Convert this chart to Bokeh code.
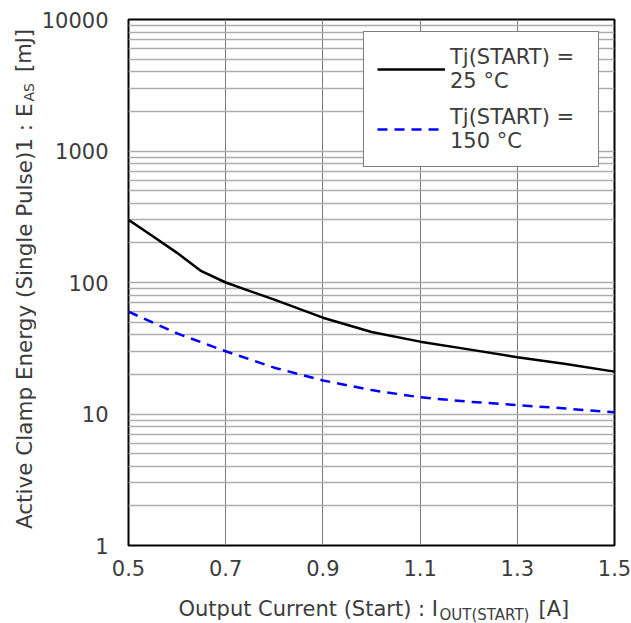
import math
from bokeh.plotting import figure
from bokeh.layouts import row, column
from bokeh.models import FixedTicker, PrintfTickFormatter, Label, Legend, LegendItem, Range1d
from bokeh.embed import file_html
from bokeh.resources import INLINE

# ---- data ----
current_25 = [0.5, 0.55, 0.6, 0.65, 0.7, 0.8, 0.9, 1.0, 1.1, 1.2, 1.3, 1.4, 1.5]
energy_25 = [300, 225, 168, 122, 100, 74, 54, 42, 35.5, 31, 27, 24, 21]
current_150 = [0.5, 0.6, 0.7, 0.8, 0.9, 1.0, 1.1, 1.2, 1.3, 1.4, 1.5]
energy_150 = [60, 41, 30, 22.5, 18, 15.2, 13.4, 12.4, 11.7, 11.0, 10.3]
x_ticks = [0.5, 0.7, 0.9, 1.1, 1.3, 1.5]
y_ticks = [1, 10, 100, 1000, 10000]
y_minor = [m * 10 ** d for d in range(4) for m in range(2, 10)]
legend_labels = ["Tj(START) =\n25 °C", "Tj(START) =\n150 °C"]
y_title = ["Active Clamp Energy (Single Pulse)1 : E", "AS", "[mJ]"]
x_title = ["Output Current (Start) : I", "OUT(START)", "[A]"]

FONT = "DejaVu Sans"
TXT = "#3c3c3c"

# ---- geometry (page pixels) ----
TOTAL_W, TOTAL_H = 631, 623
YLAB_W = 36
XLAB_H = 28
FRAME_L, FRAME_T = 128, 19
FW, FH = 486, 526
BL = FRAME_L - YLAB_W
BR = TOTAL_W - FRAME_L - FW
BT = FRAME_T
BB = TOTAL_H - XLAB_H - FRAME_T - FH

p = figure(frame_width=FW, frame_height=FH,
           min_border_left=BL, min_border_right=BR, min_border_top=BT, min_border_bottom=BB,
           x_range=(0.5, 1.5), y_range=(1, 10000), y_axis_type="log",
           output_backend="svg", toolbar_location=None)

p.outline_line_color = "black"
p.outline_line_width = 2
p.background_fill_color = "white"
p.border_fill_color = "white"

xt = FixedTicker(ticks=x_ticks)
yt = FixedTicker(ticks=y_ticks, minor_ticks=y_minor)
p.xaxis.ticker = xt
p.yaxis.ticker = yt
p.xgrid.ticker = xt
p.ygrid.ticker = yt
p.xaxis.formatter = PrintfTickFormatter(format="%.1f")
p.yaxis.formatter = PrintfTickFormatter(format="%d")

for ax in (p.xaxis[0], p.yaxis[0]):
    ax.axis_label = None
    ax.axis_line_color = None
    ax.major_tick_line_color = None
    ax.minor_tick_line_color = None
    ax.major_tick_in = 0
    ax.major_tick_out = 0
    ax.minor_tick_in = 0
    ax.minor_tick_out = 0
    ax.axis_label_standoff = 0
    ax.major_label_text_font = FONT
    ax.major_label_text_font_size = "21px"
    ax.major_label_text_color = TXT
p.yaxis.major_label_standoff = 20
p.xaxis.major_label_standoff = 14

p.xgrid.grid_line_color = "#7a7a7a"
p.xgrid.grid_line_width = 1
p.ygrid.grid_line_color = "#adadad"
p.ygrid.grid_line_width = 1.3
p.ygrid.minor_grid_line_color = "#adadad"
p.ygrid.minor_grid_line_width = 1.3

r25 = p.line(current_25, energy_25, line_color="black", line_width=2.5)
r150 = p.line(current_150, energy_150, line_color="#0000ff", line_width=2.5, line_dash="10 7")

legend = Legend(items=[LegendItem(label=legend_labels[0], renderers=[r25]),
                       LegendItem(label=legend_labels[1], renderers=[r150])],
                location=(235, 378))
legend.label_text_font = FONT
legend.label_text_font_size = "21px"
legend.label_text_color = TXT
legend.label_text_line_height = 1.25
legend.glyph_width = 68
legend.label_standoff = 5
legend.label_width = 135
legend.padding = 13
legend.spacing = 12
legend.margin = 0
legend.border_line_color = "black"
legend.border_line_width = 1
legend.background_fill_alpha = 1.0
p.add_layout(legend)


def strip(w, h, xr, yr):
    f = figure(width=w, height=h, x_range=Range1d(*xr), y_range=Range1d(*yr), title=None,
               x_axis_type=None, y_axis_type=None, min_border=0,
               output_backend="svg", toolbar_location=None)
    f.outline_line_color = None
    f.background_fill_color = "white"
    f.border_fill_color = "white"
    return f


def add_label(f, text, x, y, size, align, angle=0.0):
    f.add_layout(Label(x=x, y=y, text=text, angle=angle,
                       text_font=FONT, text_font_size=size, text_color=TXT,
                       text_align=align, text_baseline="middle"))


# y axis title strip: ranges are page pixels (y grows downward); x is the text's centre line
ylab = strip(YLAB_W, TOTAL_H, (0, YLAB_W), (TOTAL_H, 0))
add_label(ylab, y_title[0], 23.5, 103, "21.5px", "right", math.pi / 2)
add_label(ylab, y_title[1], 28, 101, "14px", "left", math.pi / 2)
add_label(ylab, y_title[2], 23.5, 50, "21px", "center", math.pi / 2)

# x axis title strip: its frame is aligned with the main frame horizontally
xlab = strip(TOTAL_W - YLAB_W, XLAB_H, (FRAME_L, FRAME_L + FW), (TOTAL_H, TOTAL_H - XLAB_H))
add_label(xlab, x_title[0], 178, 608, "21px", "left")
add_label(xlab, x_title[1], 439, 614.5, "15px", "left")
add_label(xlab, x_title[2], 538, 608, "21px", "left")

layout = row(ylab, column(p, xlab, spacing=0), spacing=0)

open("out.html", "w").write(file_html(layout, INLINE))
